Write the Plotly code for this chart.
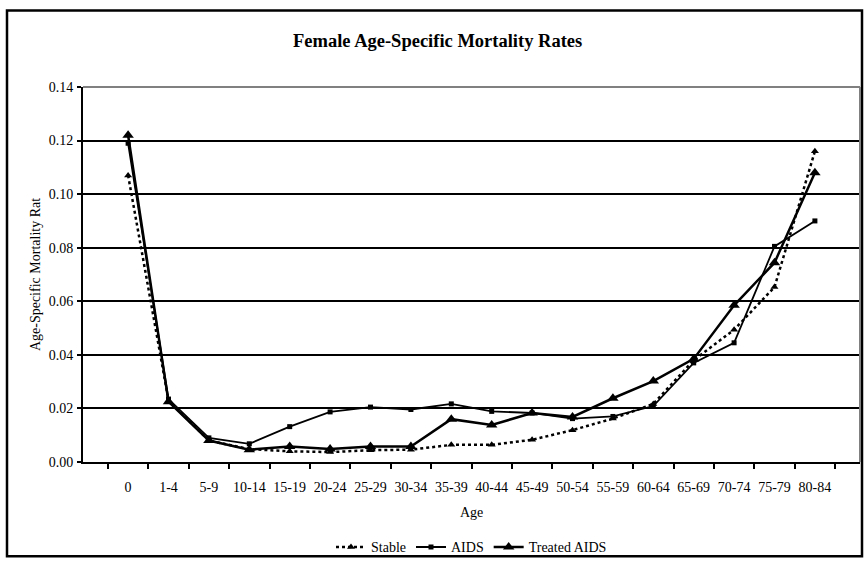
import plotly.graph_objects as go

# Age groups and female age-specific mortality rates per scenario
ages = ["0", "1-4", "5-9", "10-14", "15-19", "20-24", "25-29", "30-34", "35-39",
        "40-44", "45-49", "50-54", "55-59", "60-64", "65-69", "70-74", "75-79", "80-84"]
stable = [0.107, 0.023, 0.008, 0.0048, 0.0040, 0.0037, 0.0044, 0.0046, 0.0064,
          0.0064, 0.0083, 0.0119, 0.0162, 0.0217, 0.038, 0.0494, 0.0653, 0.116]
aids = [0.119, 0.0235, 0.009, 0.0068, 0.0132, 0.0187, 0.0205, 0.0196, 0.0217,
        0.0189, 0.0183, 0.0162, 0.017, 0.0209, 0.037, 0.0445, 0.0805, 0.090]
treated = [0.122, 0.0225, 0.008, 0.0046, 0.0058, 0.0049, 0.0058, 0.0058, 0.016,
           0.0138, 0.0183, 0.0168, 0.0238, 0.0302, 0.0385, 0.0585, 0.0744, 0.108]
y_ticks = [0.00, 0.02, 0.04, 0.06, 0.08, 0.10, 0.12, 0.14]

FONT = "Liberation Serif"

fig = go.Figure()
fig.add_trace(go.Scatter(
    x=ages, y=stable, name="Stable", mode="lines+markers",
    line=dict(color="black", width=2.5, dash="dot"),
    marker=dict(symbol="triangle-up", size=7, color="black"),
))
fig.add_trace(go.Scatter(
    x=ages, y=aids, name="AIDS", mode="lines+markers",
    line=dict(color="black", width=1.8),
    marker=dict(symbol="square", size=5, color="black"),
))
fig.add_trace(go.Scatter(
    x=ages, y=treated, name="Treated AIDS", mode="lines+markers",
    line=dict(color="black", width=2.5),
    marker=dict(symbol="triangle-up", size=10, color="black"),
))

L, R, T, B = 83, 4, 87, 98
W, H = 864, 567
pw, ph = W - L - R, H - T - B


def px_x(px):
    return (px - L) / pw


def px_y(py):
    return (H - B - py) / ph


fig.update_layout(
    width=W, height=H,
    margin=dict(l=L, r=R, t=T, b=B),
    paper_bgcolor="white", plot_bgcolor="white",
    font=dict(family=FONT, size=14, color="black"),
    showlegend=True,
    legend=dict(orientation="h", x=0.5, xanchor="center",
                y=px_y(556), yanchor="middle",
                font=dict(family=FONT, size=14, color="black"),
                itemwidth=30, tracegroupgap=0, bgcolor="rgba(0,0,0,0)"),
    xaxis=dict(
        type="category", tickson="boundaries", ticks="outside", ticklen=5,
        tickwidth=2, tickcolor="black", showline=True, linecolor="black",
        linewidth=2, showgrid=False, ticklabelstandoff=11, tickangle=0,
        tickfont=dict(family=FONT, size=14, color="black"),
    ),
    yaxis=dict(
        range=[0, 0.14], tickvals=y_ticks, tickformat=".2f",
        ticks="outside", ticklen=4, tickwidth=2, tickcolor="black",
        showline=True, linecolor="black", linewidth=2,
        showgrid=True, gridcolor="black", gridwidth=1.5, zeroline=False,
        ticklabelstandoff=1,
        tickfont=dict(family=FONT, size=14, color="black"),
        title=dict(text="Age-Specific Mortality Rat", standoff=5,
                   font=dict(family=FONT, size=14, color="black")),
    ),
    annotations=[
        dict(text="<b>Female Age-Specific Mortality Rates</b>", xref="paper", yref="paper",
             x=px_x(437), y=px_y(40), xanchor="center", yanchor="middle",
             showarrow=False, font=dict(family=FONT, size=18.5, color="black")),
        dict(text="Age", xref="paper", yref="paper",
             x=px_x(471), y=px_y(520), xanchor="center", yanchor="middle",
             showarrow=False, font=dict(family=FONT, size=14, color="black")),
    ],
    shapes=[
        # outer chart frame
        dict(type="rect", xref="paper", yref="paper",
             x0=px_x(7), x1=px_x(862), y0=px_y(565), y1=px_y(9),
             line=dict(color="black", width=2.5), layer="below"),
        # grey top and right edges of the plot area
        dict(type="line", xref="paper", yref="paper", x0=0, x1=1, y0=1, y1=1,
             line=dict(color="#808080", width=2), layer="above"),
        dict(type="line", xref="paper", yref="paper", x0=1, x1=1, y0=0, y1=1,
             line=dict(color="#808080", width=2), layer="above"),
    ],
)

fig.write_html("out.html")
